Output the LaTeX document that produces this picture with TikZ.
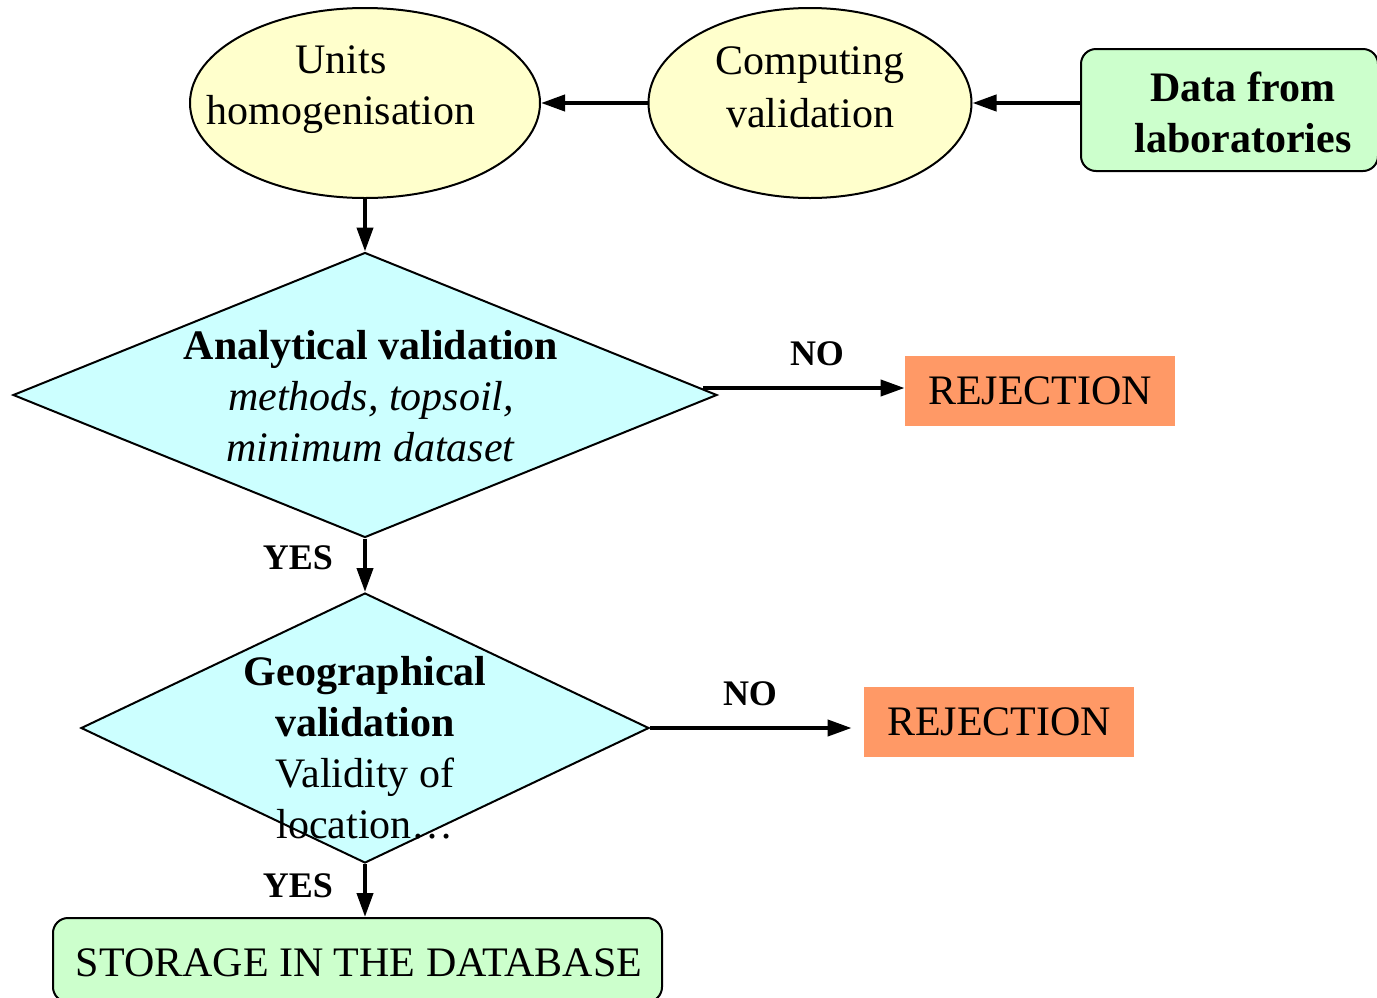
\documentclass[tikz,border=0pt]{standalone}
\usepackage{fontspec}
\setmainfont{Liberation Serif}
\usetikzlibrary{shapes.geometric,arrows.meta}

\definecolor{ellfill}{HTML}{FFFFCC}
\definecolor{diafill}{HTML}{CCFFFF}
\definecolor{boxfill}{HTML}{CCFFCC}
\definecolor{rejfill}{HTML}{FF9966}

\tikzset{
  shapeline/.style={draw=black, line width=1pt},
  ellbox/.style={shapeline, ellipse, fill=ellfill, inner sep=0pt},
  diabox/.style={shapeline, diamond, fill=diafill, inner sep=0pt},
  greenbox/.style={shapeline, rectangle, rounded corners=7.5pt, fill=boxfill, inner sep=0pt},
  rejbox/.style={rectangle, fill=rejfill, inner sep=0pt, minimum width=135pt, minimum height=35pt},
  txt/.style={align=center, inner sep=0pt},
  lbl/.style={font=\fontsize{18}{21}\selectfont\bfseries, inner sep=0pt},
  flow/.style={line width=2pt, -{Triangle[length=12pt,width=8pt]}}
}

\begin{document}
\begin{tikzpicture}[x=0.5pt, y=-0.5pt, font=\fontsize{21}{25.5}\selectfont]
\clip (0,0) rectangle (1377,997);
\fill[white] (0,0) rectangle (1377,997);

% process ellipses and the data source
\node[ellbox, minimum width=175pt, minimum height=95pt] (units) at (365,103) {};
\node[txt] (unitsT) at (341,90) {Units\\homogenisation};
\node[ellbox, minimum width=161.5pt, minimum height=95pt] (comp) at (810,103) {};
\node[txt] (compT) at (810,87) {Computing\\[1pt]validation};
\node[greenbox, minimum width=148.5pt, minimum height=61pt] (data) at (1229.5,110) {};
\node[txt, font=\fontsize{21}{25.5}\selectfont\bfseries] (dataT) at (1243,112) {Data from\\laboratories};

% decision diamonds
\node[diabox, aspect=2.47, minimum width=352pt, minimum height=142.5pt] (ana) at (365,395) {};
\node[txt] (anaT) at (371,396) {\textbf{Analytical validation}\\\textit{methods, topsoil,}\\\textit{minimum dataset}};
\node[diabox, aspect=2.1, minimum width=284pt, minimum height=135pt] (geo) at (365,728) {};
\node[txt] (geoT) at (365,748) {\textbf{Geographical}\\\textbf{validation}\\Validity of\\location\dots};

% outcomes
\node[rejbox] (rej1) at (1040,391) {REJECTION};
\node[rejbox] (rej2) at (999,722) {REJECTION};
\node[greenbox, minimum width=304.5pt, minimum height=42pt] (store) at (357.5,960) {};
\node[txt] (storeT) at (359,963) {STORAGE IN THE DATABASE};

% connectors
\coordinate (no1) at (703,388);
\draw[flow] (comp.east -| data.west) -- (comp.east);
\draw[flow] (comp.west) -- (units.east);
\draw[flow] (units.south) -- (ana.north);
\draw[flow] (no1) -- (no1 -| rej1.west);
\draw[flow] (ana.south) -- (geo.north);
\draw[flow, shorten >=6pt] (geo.east) -- (geo.east -| rej2.west);
\draw[flow] (geo.south) -- (geo.south |- store.north);

% branch labels
\node[lbl] (noA) at (817,354) {NO};
\node[lbl] (noB) at (750,694) {NO};
\node[lbl] (yesA) at (298,558) {YES};
\node[lbl] (yesB) at (298,886) {YES};
\end{tikzpicture}
\end{document}
